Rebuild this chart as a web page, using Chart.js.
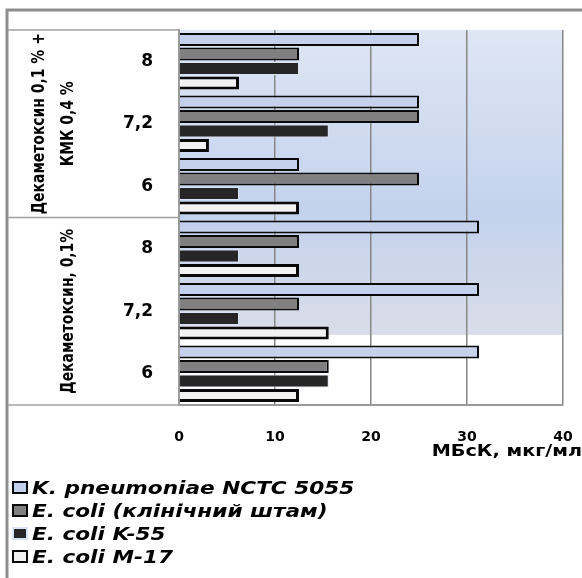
<!DOCTYPE html>
<html>
<head>
<meta charset="utf-8">
<script src="https://cdn.jsdelivr.net/npm/chart.js@4"></script>
<style>
  body { margin: 0; background: #fff; }
  #wrap { position: relative; width: 582px; height: 578px; }
  #legend {
    position: absolute; left: 12px; top: 476px;
    font: italic bold 18px "DejaVu Sans", sans-serif; color: #000;
  }
  .item { height: 23px; display: flex; align-items: center; white-space: nowrap; }
  .box { width: 12px; height: 9px; border: 2px solid #000; margin-right: 4px; flex: none; }
  .txt { display: inline-block; transform: scaleX(1.2); transform-origin: left center; }
</style>
</head>
<body>
<div id="wrap">
  <canvas id="chart"></canvas>
  <div id="legend"></div>
</div>
<script>
// === Data ===
const categories = ["8", "7,2", "6", "8", "7,2", "6"];
const groupLabels = [["Декаметоксин 0,1 % +", "КМК 0,4 %"], ["Декаметоксин, 0,1%"]];
const groupSizes = [3, 3];
const seriesNames = ["K. pneumoniae NCTC 5055", "E. coli (клінічний штам)", "E. coli K-55", "E. coli M-17"];
const kPneumoniae = [25, 25, 12.5, 31.25, 31.25, 31.25];
const eColiClinical = [12.5, 25, 25, 12.5, 12.5, 15.6];
const eColiK55 = [12.5, 15.6, 6.25, 6.25, 6.25, 15.6];
const eColiM17 = [6.25, 3.12, 12.5, 12.5, 15.6, 12.5];
const xTicks = [0, 10, 20, 30, 40];
const xTitle = "МБсК, мкг/мл";

// === Background, table lines, group labels ===
const tablePlugin = {
  id: "table",
  beforeDraw(chart) {
    const { ctx, chartArea: a } = chart;
    const h = (a.bottom - a.top) * 0.813;
    const g = ctx.createLinearGradient(0, a.top, 0, a.top + h);
    g.addColorStop(0, "#dfe6f4");
    g.addColorStop(0.6, "#c3d2ec");
    g.addColorStop(1, "#d9dde8");
    ctx.save();
    ctx.fillStyle = g;
    ctx.fillRect(a.left, a.top, a.right - a.left, h);
    ctx.restore();
  },
  afterDraw(chart) {
    const { ctx, chartArea: a } = chart;
    const y = chart.scales.y;
    ctx.save();

    // outer frame
    ctx.strokeStyle = "#8e8e8e";
    ctx.lineWidth = 3;
    ctx.beginPath();
    ctx.moveTo(7, 578);
    ctx.lineTo(7, 10);
    ctx.lineTo(582, 10);
    ctx.stroke();

    // table rows + group labels
    ctx.strokeStyle = "#a0a0a0";
    ctx.lineWidth = 1.5;
    let start = 0;
    const lineAt = (py) => {
      ctx.beginPath();
      ctx.moveTo(8, py);
      ctx.lineTo(a.left, py);
      ctx.stroke();
    };
    lineAt(a.top);
    groupLabels.forEach((lines, gi) => {
      const n = groupSizes[gi];
      const end = start + n - 1;
      const yc = (y.getPixelForValue(start) + y.getPixelForValue(end)) / 2;
      const yb = end + 1 < categories.length
        ? (y.getPixelForValue(end) + y.getPixelForValue(end + 1)) / 2
        : a.bottom;
      lineAt(yb);

      ctx.fillStyle = "#000";
      ctx.font = 'bold 18px "Liberation Sans Narrow", "DejaVu Sans Condensed", sans-serif';
      ctx.textAlign = "center";
      ctx.textBaseline = "middle";
      lines.forEach((t, li) => {
        const x = 68 - (lines.length - 1 - li) * 29;
        ctx.save();
        ctx.translate(x, yc);
        ctx.rotate(-Math.PI / 2);
        ctx.scale(0.86, 1);
        ctx.fillText(t, 0, 0);
        ctx.restore();
      });
      start += n;
    });

    // axis title, right end
    ctx.fillStyle = "#000";
    ctx.font = 'bold 16px "DejaVu Sans", sans-serif';
    ctx.textAlign = "right";
    ctx.textBaseline = "middle";
    ctx.translate(582, 452);
    ctx.scale(1.2, 1);
    ctx.fillText(xTitle, 0, 0);
    ctx.restore();
  }
};

const ctx = document.getElementById("chart").getContext("2d");
const chart = new Chart(ctx, {
  type: "bar",
  data: {
    labels: categories,
    datasets: [
      { label: seriesNames[0], data: kPneumoniae, backgroundColor: "#c4d0ec", borderColor: "#0a0a0a", borderWidth: 2 },
      { label: seriesNames[1], data: eColiClinical, backgroundColor: "#808080", borderColor: "#0a0a0a", borderWidth: 2 },
      { label: seriesNames[2], data: eColiK55, backgroundColor: "#262626", borderColor: "#dbe4f5", borderWidth: 1 },
      { label: seriesNames[3], data: eColiM17, backgroundColor: "#f2f2f2", borderColor: "#0a0a0a", borderWidth: 3 },
    ]
  },
  options: {
    indexAxis: "y",
    responsive: true,
    maintainAspectRatio: false,
    animation: false,
    datasets: { bar: { categoryPercentage: 0.93, barPercentage: 0.9, borderSkipped: "start" } },
    layout: { padding: { left: 8, top: 30, right: 19, bottom: 100 } },
    plugins: { legend: { display: false }, tooltip: { enabled: false } },
    scales: {
      x: {
        min: xTicks[0],
        max: xTicks[xTicks.length - 1],
        ticks: { stepSize: xTicks[1] - xTicks[0], color: "#000", padding: 0, font: { family: "DejaVu Sans", size: 14, weight: "bold" } },
        grid: { color: "#878787", lineWidth: 1.5, drawTicks: true, tickLength: 24, tickColor: "rgba(0,0,0,0)" },
        border: { color: "#9a9a9a", width: 2 },
        afterFit: (s) => { s.height = 73; }
      },
      y: {
        ticks: { color: "#000", padding: 0, font: { family: "DejaVu Sans", size: 17, weight: "bold" } },
        grid: { display: false, drawTicks: true, tickLength: 26 },
        border: { color: "#9a9a9a", width: 2 },
        afterFit: (s) => { s.width = 171; }
      }
    }
  },
  plugins: [tablePlugin]
});

// === Legend (one item per row) ===
const legend = document.getElementById("legend");
chart.data.datasets.forEach((ds) => {
  const item = document.createElement("div");
  item.className = "item";
  item.innerHTML = `<span class="box" style="background:${ds.backgroundColor};border-color:${ds.borderColor}"></span><span class="txt">${ds.label}</span>`;
  legend.appendChild(item);
});
</script>
</body>
</html>
